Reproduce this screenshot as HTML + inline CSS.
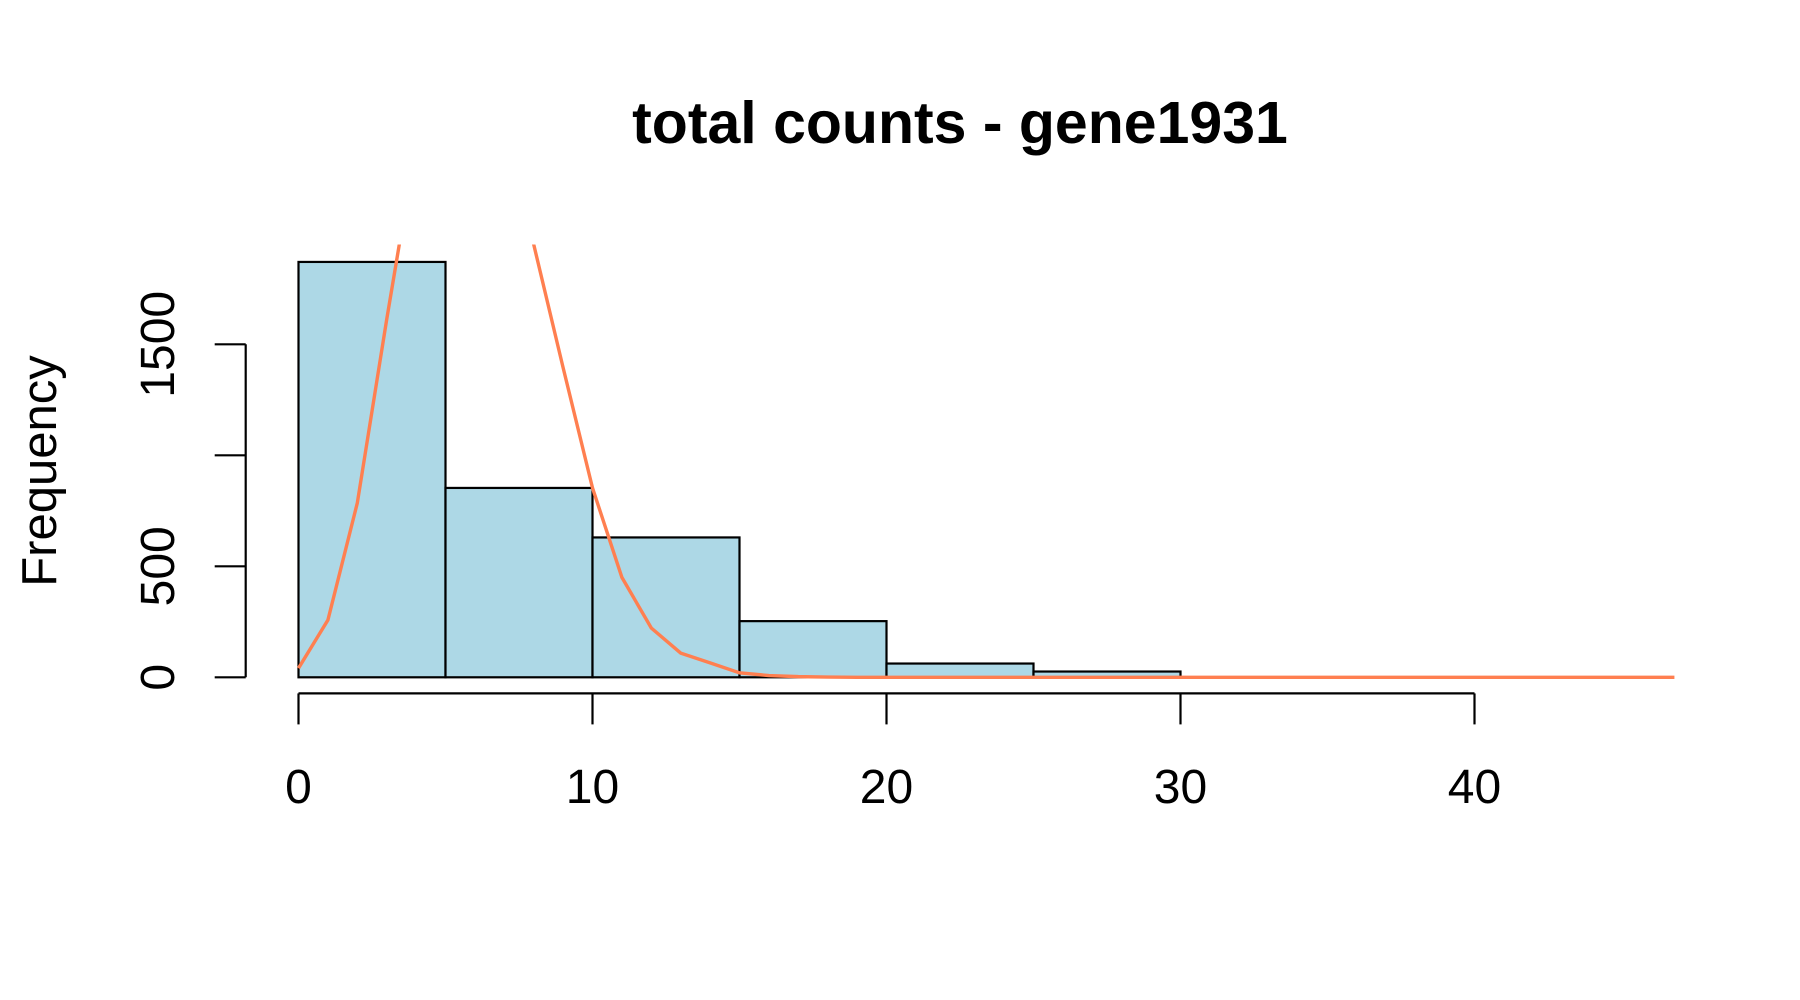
<!DOCTYPE html>
<html><head><meta charset="utf-8"><style>
html,body{margin:0;padding:0;background:#fff;}
svg{display:block;font-family:"Liberation Sans",Arial,sans-serif;}
</style></head><body>
<svg id="chart" width="1800" height="1000" viewBox="0 0 1800 1000" xmlns="http://www.w3.org/2000/svg">
<defs><clipPath id="plotclip"><rect x="240" y="244.5" width="1450" height="500"/></clipPath></defs>
<text x="960" y="143" text-anchor="middle" font-size="59" font-weight="bold">total counts - gene1931</text>
<text transform="translate(56,471) rotate(-90)" text-anchor="middle" font-size="49">Frequency</text>
<g id="bars"></g>
<g id="curve" clip-path="url(#plotclip)"></g>
<g id="xaxis"></g>
<g id="yaxis"></g>
</svg>
<script>
const binEdges = [0,5,10,15,20,25,30];
const binCounts = [1871,853,630,253,62,26];
const curveX = [0,1,2,3,4,5,6,7,8,9,10,11,12,13,14,15,16,17,18,19,20,25,30,35,40,46.8];
const curveY = [41,258,785,1612,2400,2700,2750,2400,1950,1395,853,450,222,109,65,20,8,3,1,0,0,0,0,0,0,0];
const xTicks = [0,10,20,30,40];
const yTicks = [0,500,1000,1500];
const yTickLabels = ["0","500","","1500"];

const NS="http://www.w3.org/2000/svg";
const sx = v => 298.5 + v*29.4;
const sy = v => 677.3 - v*0.222;
function mk(tag, attrs, parent){const e=document.createElementNS(NS,tag);for(const k in attrs)e.setAttribute(k,attrs[k]);parent.appendChild(e);return e;}

const bars=document.getElementById('bars');
binCounts.forEach((c,i)=>{
  const r=mk('rect',{x:sx(binEdges[i]),y:sy(c),width:sx(binEdges[i+1])-sx(binEdges[i]),height:sy(0)-sy(c),fill:'#ADD8E6',stroke:'#000','stroke-width':2.2},bars);
  
  
});

const curve=document.getElementById('curve');
const pl=mk('polyline',{points:curveX.map((x,i)=>sx(x)+','+sy(curveY[i])).join(' '),fill:'none',stroke:'#FF7F50','stroke-width':3.4},curve);



const xa=document.getElementById('xaxis');
const xy=693.4;
mk('line',{x1:sx(xTicks[0]),x2:sx(xTicks[xTicks.length-1]),y1:xy,y2:xy,stroke:'#000','stroke-width':2.2},xa);
xTicks.forEach(t=>{
  mk('line',{x1:sx(t),x2:sx(t),y1:xy,y2:xy+31,stroke:'#000','stroke-width':2.2},xa);
  const tx=mk('text',{x:sx(t),y:803,'text-anchor':'middle','font-size':48},xa);
  tx.textContent=t;
  
  
});

const ya=document.getElementById('yaxis');
const yx=245.7;
mk('line',{x1:yx,x2:yx,y1:sy(yTicks[0]),y2:sy(yTicks[yTicks.length-1]),stroke:'#000','stroke-width':2.2},ya);
yTicks.forEach((t,i)=>{
  mk('line',{x1:yx-31,x2:yx,y1:sy(t),y2:sy(t),stroke:'#000','stroke-width':2.2},ya);
  if(yTickLabels[i]){
    const tx=mk('text',{transform:'translate(174,'+sy(t)+') rotate(-90)','text-anchor':'middle','font-size':48},ya);
    tx.textContent=yTickLabels[i];
    
    
  }
});
</script>
</body></html>
